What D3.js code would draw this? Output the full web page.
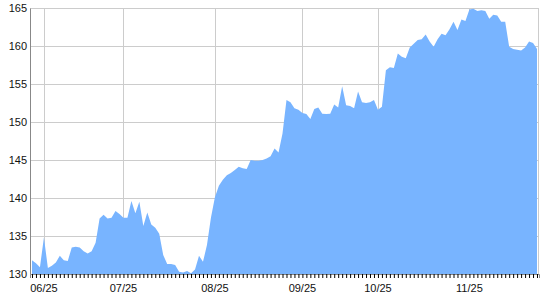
<!DOCTYPE html>
<html>
<head>
<meta charset="utf-8">
<script src="https://cdn.jsdelivr.net/npm/d3@7"></script>
<style>
  body { margin: 0; background: #fff; }
  svg text { font-family: "Liberation Sans", Arial, sans-serif; font-size: 11px; fill: #111; }
</style>
</head>
<body>
<svg id="chart"></svg>
<script>
// trading days: weekdays from start to end, minus holidays
let startDate = "2016-06-22"
let endDate = "2016-12-20"
let holidays = ["2016-10-03", "2016-10-04"]

// closing values, one per trading day
let prices = [
    131.8, 131.4, 130.9, 134.8, 130.8, 131.1, 131.5, 132.4, 131.8, 131.7,
    133.5, 133.6, 133.5, 133.0, 132.7, 133.0, 134.1, 137.3, 137.8, 137.3,
    137.4, 138.3, 137.9, 137.4, 137.4, 139.6, 138.0, 139.5, 136.3, 138.1,
    136.5, 136.1, 135.3, 132.5, 131.3, 131.3, 131.2, 130.3, 130.2, 130.4,
    130.1, 130.6, 132.4, 131.6, 133.8, 137.4, 140.1, 141.6, 142.4, 143.0,
    143.3, 143.7, 144.1, 143.9, 143.8, 145.0, 144.9, 144.9, 145.0, 145.2,
    145.5, 146.5, 146.0, 148.5, 152.9, 152.6, 151.8, 151.6, 151.2, 151.05,
    150.4, 151.7, 151.9, 151.1, 151.05, 151.1, 152.3, 151.9, 154.7, 152.2,
    152.1, 151.8, 154.0, 152.6, 152.5, 152.6, 152.9, 151.6, 152.0, 156.8,
    157.2, 157.1, 159.0, 158.6, 158.4, 159.8, 160.3, 160.8, 160.9, 161.5,
    160.6, 159.9, 160.9, 161.6, 161.4, 162.2, 163.2, 162.1, 163.5, 163.3,
    164.8, 164.9, 164.6, 164.7, 164.6, 163.6, 164.1, 164.0, 163.2, 163.2,
    159.9, 159.6, 159.5, 159.4, 159.8, 160.6, 160.4, 159.6
]

let tickLabels = ["06/25", "07/25", "08/25", "09/25", "10/25", "11/25"]
let yTicks = [130, 135, 140, 145, 150, 155, 160, 165]

let fmt = d3.timeFormat("%Y-%m-%d")
let parseDate = d3.timeParse("%Y-%m-%d")

let dates = d3.timeDay.range(parseDate(startDate), d3.timeDay.offset(parseDate(endDate), 1))
    .filter(d => d.getDay() != 0 && d.getDay() != 6 && !holidays.includes(fmt(d)))

let data = dates.map((d, i) => ({ date: d, value: prices[i] }))

let margin = { top: 8, right: 1, bottom: 26, left: 30 },
    width = 540 - margin.left - margin.right,
    height = 300 - margin.top - margin.bottom;

let svg = d3.select('#chart')
    .attr('width', 540)
    .attr('height', 300)
    .append('g')
    .attr('transform', `translate(${margin.left}, ${margin.top})`)

let x = d3.scalePoint().domain(d3.range(data.length)).range([0, width]).padding(0.5)
let y = d3.scaleLinear().domain([130, 165]).range([height, 0])

// label each month at the first trading day on or after the 25th
let tickIdx = tickLabels.map(function (t) {
    let target = parseDate("2016-" + t.replace("/", "-"))
    return dates.findIndex(d => d >= target)
})

// horizontal grid
svg.append('g')
    .selectAll('line')
    .data(yTicks)
    .enter().append('line')
    .attr('x1', 0)
    .attr('x2', width)
    .attr('y1', d => Math.round(y(d)) + 0.5)
    .attr('y2', d => Math.round(y(d)) + 0.5)
    .style('stroke', '#cccccc')

// vertical grid
svg.append('g')
    .selectAll('line')
    .data(tickIdx)
    .enter().append('line')
    .attr('x1', d => Math.round(x(d)) + 0.5)
    .attr('x2', d => Math.round(x(d)) + 0.5)
    .attr('y1', 0)
    .attr('y2', height)
    .style('stroke', '#cccccc')

// right border
svg.append('line')
    .attr('x1', width - 0.5).attr('x2', width - 0.5)
    .attr('y1', 0).attr('y2', height)
    .style('stroke', '#cccccc')

let area = d3.area()
    .x((d, i) => x(i))
    .y0(y(130))
    .y1(d => y(d.value))

svg.append('path')
    .datum(data)
    .attr('d', area)
    .attr('fill', '#78b4ff')

// y axis
let yAxis = svg.append('g')
    .call(d3.axisLeft(y).tickValues(yTicks).tickSize(0).tickPadding(3))
yAxis.select('.domain').style('stroke', '#888888')
yAxis.selectAll('text').style('font-size', '11px').style('fill', '#111')

// x axis: a tick for every trading day
let xAxis = svg.append('g')
    .attr('transform', `translate(0, ${height})`)
    .call(d3.axisBottom(x).tickSize(4).tickFormat(''))
xAxis.select('.domain').style('stroke', '#888888')
xAxis.selectAll('.tick line').style('stroke', '#000')

svg.append('g')
    .selectAll('text')
    .data(tickIdx)
    .enter().append('text')
    .attr('x', d => x(d))
    .attr('y', height + 18)
    .attr('text-anchor', 'middle')
    .text((d, i) => tickLabels[i])
</script>
</body>
</html>
